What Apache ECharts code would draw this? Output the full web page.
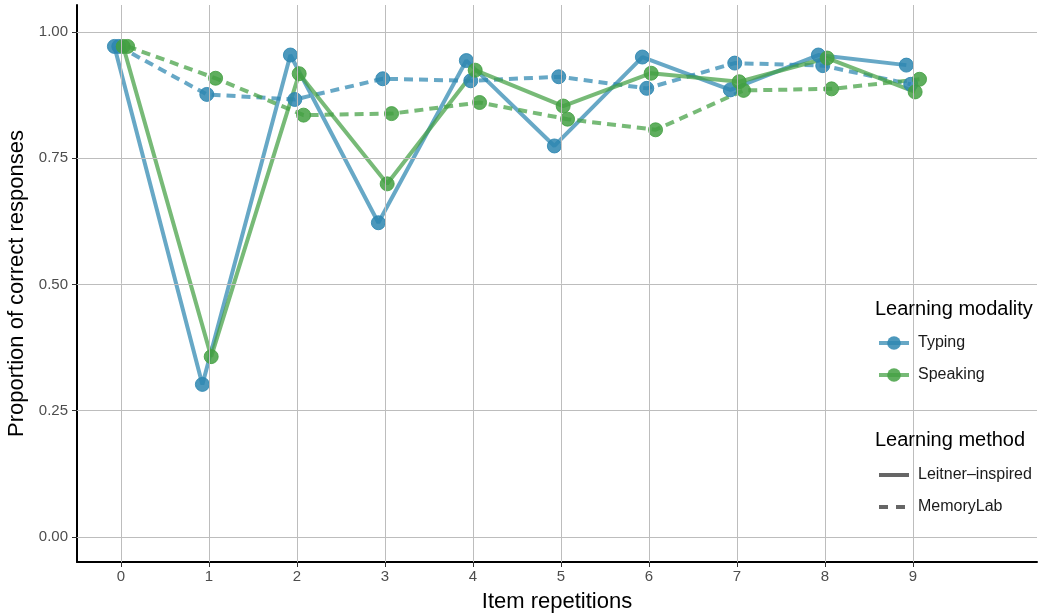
<!DOCTYPE html>
<html>
<head>
<meta charset="utf-8">
<script src="https://cdn.jsdelivr.net/npm/echarts@6/dist/echarts.min.js"></script>
<style>
html,body{margin:0;padding:0;background:#fff;}
#chart{width:1039px;height:614px;}
</style>
</head>
<body>
<div id="chart"></div>
<script>
// ---- data ----
const repetitions = [0, 1, 2, 3, 4, 5, 6, 7, 8, 9];
const typingLeitner     = [0.971, 0.302, 0.954, 0.622, 0.943, 0.774, 0.950, 0.885, 0.954, 0.934];
const typingMemoryLab   = [0.971, 0.876, 0.866, 0.907, 0.903, 0.911, 0.888, 0.938, 0.933, 0.896];
const speakingLeitner   = [0.971, 0.357, 0.917, 0.699, 0.924, 0.853, 0.918, 0.901, 0.948, 0.881];
const speakingMemoryLab = [0.971, 0.908, 0.835, 0.838, 0.860, 0.827, 0.806, 0.884, 0.887, 0.906];
const xTicks = [0, 1, 2, 3, 4, 5, 6, 7, 8, 9];
const yTicks = [0, 0.25, 0.5, 0.75, 1];
const modalities = ['Typing', 'Speaking'];
const methods = ['Leitner–inspired', 'MemoryLab'];

// ---- styles ----
const FONT = 'Liberation Sans, Arial, Helvetica, sans-serif';
const BLUE = '#2d86b0';
const GREEN = '#43a042';
const dashPattern = [9, 6];

function pairs(values, offset) {
  return repetitions.map((r, i) => [r + offset, values[i]]);
}
function dataSeries(name, values, color, dashed, offset) {
  return {
    name: name,
    type: 'line',
    data: pairs(values, offset),
    z: 3,
    symbol: 'circle',
    symbolSize: 14,
    showSymbol: true,
    itemStyle: { color: color, opacity: 0.85, borderColor: color, borderWidth: 1 },
    lineStyle: { color: color, width: 4, opacity: 0.72, type: dashed ? dashPattern : 'solid' },
    emphasis: { disabled: true },
    silent: true,
    legendHoverLink: false
  };
}

const chart = echarts.init(document.getElementById('chart'), null, { renderer: 'canvas' });

const series = [
  {
    name: '__grid',
    type: 'line',
    data: [],
    z: 1,
    silent: true,
    markLine: {
      silent: true,
      symbol: 'none',
      animation: false,
      label: { show: false },
      lineStyle: { color: '#bdbdbd', width: 1, type: 'solid' },
      emphasis: { disabled: true },
      data: xTicks.map(v => ({ xAxis: v })).concat(yTicks.map(v => ({ yAxis: v })))
    }
  },
  dataSeries('Typing Leitner', typingLeitner, BLUE, false, -0.075),
  dataSeries('Typing MemoryLab', typingMemoryLab, BLUE, true, -0.025),
  dataSeries('Speaking Leitner', speakingLeitner, GREEN, false, 0.025),
  dataSeries('Speaking MemoryLab', speakingMemoryLab, GREEN, true, 0.075),
  // legend-only series
  { name: modalities[0], type: 'line', data: [], symbol: 'circle', symbolSize: 14,
    itemStyle: { color: BLUE, opacity: 0.85 }, lineStyle: { color: BLUE, width: 4, opacity: 0.72 } },
  { name: modalities[1], type: 'line', data: [], symbol: 'circle', symbolSize: 14,
    itemStyle: { color: GREEN, opacity: 0.85 }, lineStyle: { color: GREEN, width: 4, opacity: 0.72 } },
  { name: methods[0], type: 'line', data: [], symbol: 'none',
    itemStyle: { color: '#666666' }, lineStyle: { color: '#666666', width: 4, type: 'solid' } },
  { name: methods[1], type: 'line', data: [], symbol: 'none',
    itemStyle: { color: '#666666' }, lineStyle: { color: '#666666', width: 4, type: [9, 8] } }
];

const legendText = { fontFamily: FONT, fontSize: 16, color: '#1a1a1a', padding: [0, 0, 0, 4] };

chart.setOption({
  animation: false,
  backgroundColor: '#ffffff',
  grid: { left: 77, right: 2, top: 5, bottom: 52, containLabel: false, outerBoundsMode: 'none' },
  xAxis: {
    type: 'value',
    min: -0.5,
    max: 10.41,
    name: 'Item repetitions',
    nameLocation: 'middle',
    nameGap: 29,
    nameTextStyle: { fontFamily: FONT, fontSize: 22, color: '#000' },
    axisLine: { show: true, onZero: false, lineStyle: { color: '#000', width: 2 } },
    axisTick: { show: true, customValues: xTicks, length: 5, lineStyle: { color: '#333', width: 1 } },
    axisLabel: { customValues: xTicks, fontFamily: FONT, fontSize: 15, color: '#4d4d4d', margin: 7 },
    splitLine: { show: false }
  },
  yAxis: {
    type: 'value',
    min: -0.0495,
    max: 1.053,
    name: 'Proportion of correct responses',
    nameLocation: 'middle',
    nameGap: 46,
    nameRotate: 90,
    nameTextStyle: { fontFamily: FONT, fontSize: 22, color: '#000' },
    axisLine: { show: true, onZero: false, lineStyle: { color: '#000', width: 2 } },
    axisTick: { show: true, customValues: yTicks, length: 5, lineStyle: { color: '#333', width: 1 } },
    axisLabel: { customValues: yTicks, fontFamily: FONT, fontSize: 15, color: '#4d4d4d', margin: 9,
      formatter: v => v.toFixed(2) },
    splitLine: { show: false }
  },
  title: [
    { text: 'Learning modality', left: 875, top: 299, padding: 0,
      textStyle: { fontFamily: FONT, fontSize: 20, fontWeight: 'normal', color: '#000' } },
    { text: 'Learning method', left: 875, top: 430, padding: 0,
      textStyle: { fontFamily: FONT, fontSize: 20, fontWeight: 'normal', color: '#000' } }
  ],
  legend: [
    { data: modalities, orient: 'vertical', left: 877, top: 335, padding: 0,
      itemWidth: 30, itemHeight: 17, itemGap: 16, textStyle: legendText, selectedMode: false,
      lineStyle: { width: 4 } },
    { data: methods, orient: 'vertical', left: 877, top: 467, padding: 0,
      itemWidth: 30, itemHeight: 17, itemGap: 16, textStyle: legendText, selectedMode: false,
      itemStyle: { opacity: 0 }, lineStyle: { width: 4 } }
  ],
  graphic: [
    { type: 'rect', z: 2, silent: true, shape: { x: 862, y: 290, width: 177, height: 108 },
      style: { fill: '#ffffff' } },
    { type: 'rect', z: 2, silent: true, shape: { x: 862, y: 418, width: 177, height: 114 },
      style: { fill: '#ffffff' } }
  ],
  series: series
});
</script>
</body>
</html>
